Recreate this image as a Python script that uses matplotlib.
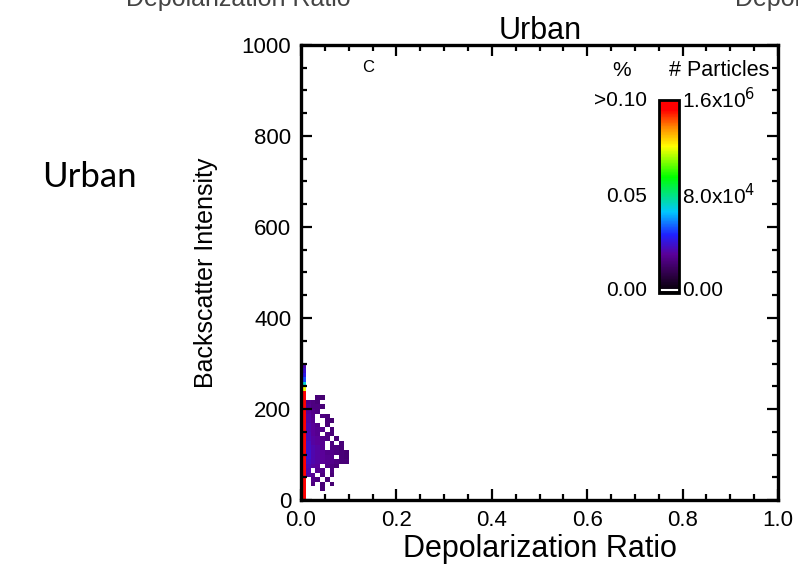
import numpy as np
import matplotlib
matplotlib.use("Agg")
import matplotlib.pyplot as plt
from matplotlib.colors import LinearSegmentedColormap
from matplotlib.ticker import MultipleLocator

# bin edges of the 2D histogram
depol_edges = [0.00, 0.01, 0.02, 0.03, 0.04, 0.05, 0.06, 0.07, 0.08, 0.09, 0.10]
intensity_edges = list(range(0, 310, 10))

# percent of particles per cell, one row per intensity bin (0-10, 10-20, ...)
percent = [
    [0.12, 0, 0, 0, 0, 0, 0, 0, 0, 0],
    [0.12, 0, 0, 0, 0, 0, 0, 0, 0, 0],
    [0.12, 0, 0, 0, 0.016, 0, 0, 0, 0, 0],
    [0.12, 0, 0.017, 0, 0.016, 0, 0.015, 0, 0, 0],
    [0.12, 0, 0.018, 0.017, 0, 0.016, 0, 0, 0, 0],
    [0.12, 0.021, 0.019, 0, 0.017, 0, 0.016, 0, 0, 0],
    [0.12, 0.022, 0, 0.019, 0.018, 0, 0.017, 0, 0, 0],
    [0.12, 0.023, 0.021, 0.02, 0, 0.018, 0.017, 0.016, 0, 0],
    [0.12, 0.024, 0.022, 0.021, 0.02, 0.019, 0.018, 0.017, 0.016, 0.016],
    [0.12, 0.025, 0.022, 0.021, 0.02, 0.019, 0.018, 0, 0.016, 0.015],
    [0.12, 0.025, 0.022, 0.021, 0.02, 0.018, 0.018, 0.017, 0.016, 0.015],
    [0.12, 0.024, 0.022, 0.021, 0.019, 0, 0.017, 0.017, 0.016, 0],
    [0.12, 0.024, 0.021, 0.02, 0.019, 0, 0.017, 0, 0.016, 0],
    [0.12, 0.023, 0.021, 0.02, 0.018, 0.017, 0, 0.016, 0, 0],
    [0.12, 0.023, 0.02, 0.019, 0, 0.017, 0.016, 0, 0, 0],
    [0.12, 0.022, 0.02, 0.019, 0.018, 0, 0.016, 0, 0, 0],
    [0.12, 0.022, 0.02, 0.018, 0, 0.016, 0, 0, 0, 0],
    [0.12, 0.021, 0.019, 0, 0, 0.016, 0.015, 0, 0, 0],
    [0.12, 0.021, 0.018, 0, 0.017, 0.016, 0, 0, 0, 0],
    [0.12, 0.02, 0.018, 0.017, 0, 0, 0, 0, 0, 0],
    [0.12, 0.019, 0.017, 0.017, 0.016, 0, 0, 0, 0, 0],
    [0.12, 0.018, 0.017, 0.016, 0, 0, 0, 0, 0, 0],
    [0.12, 0, 0, 0.016, 0.015, 0, 0, 0, 0, 0],
    [0.12, 0, 0, 0, 0, 0, 0, 0, 0, 0],
    [0.075, 0, 0, 0, 0, 0, 0, 0, 0, 0],
    [0.045, 0, 0, 0, 0, 0, 0, 0, 0, 0],
    [0.033, 0, 0, 0, 0, 0, 0, 0, 0, 0],
    [0.028, 0, 0, 0, 0, 0, 0, 0, 0, 0],
    [0.025, 0, 0, 0, 0, 0, 0, 0, 0, 0],
    [0.022, 0, 0, 0, 0, 0, 0, 0, 0, 0],
]

pct_labels = [">0.10", "0.05", "0.00"]
count_labels = ["1.6x10$^6$", "8.0x10$^4$", "0.00"]

plt.rcParams["font.family"] = ["Liberation Sans", "DejaVu Sans"]

cmap = LinearSegmentedColormap.from_list("idl_rainbow", [
    (0.0, "#000000"), (0.1, "#30004a"), (0.2, "#5a0099"), (0.3, "#2020ff"),
    (0.42, "#00c8ff"), (0.6, "#00ff00"), (0.76, "#ffff00"), (0.86, "#ff8800"),
    (0.95, "#ff0000"), (1.0, "#ff0000")])

W, H = 798, 566
fig = plt.figure(figsize=(W / 100, H / 100), dpi=100)
ax = fig.add_axes([301 / W, 1 - 500 / H, 477 / W, 455 / H])

z = np.ma.masked_equal(np.array(percent), 0)
mesh = ax.pcolormesh(depol_edges, intensity_edges, z, cmap=cmap, vmin=0, vmax=0.10)

ax.set_xlim(0, 1)
ax.set_ylim(0, 1000)
ax.xaxis.set_major_locator(MultipleLocator(0.2))
ax.xaxis.set_minor_locator(MultipleLocator(0.05))
ax.yaxis.set_major_locator(MultipleLocator(200))
ax.yaxis.set_minor_locator(MultipleLocator(50))
ax.xaxis.set_major_formatter(matplotlib.ticker.FormatStrFormatter("%.1f"))
ax.tick_params(which="both", direction="in", top=True, right=True, width=1.6, labelsize=16)
ax.tick_params(which="major", length=8, pad=7)
ax.tick_params(which="minor", length=4)
for s in ax.spines.values():
    s.set_linewidth(2.4)
ax.set_xlabel("Depolarization Ratio", fontsize=22, labelpad=2)
ax.set_ylabel("Backscatter Intensity", fontsize=18, labelpad=17)
ax.text(0.14, 951, "C", fontsize=12, ha="center", va="center")

# colour bar inside the plot
cax = fig.add_axes([659 / W, 1 - 293 / H, 20 / W, 193 / H])
cb = fig.colorbar(mesh, cax=cax, ticks=[])
cb.outline.set_linewidth(2)
cax.axhline(0.0015, color="white", lw=1.5)

def ft(px, py, s, **kw):
    fig.text(px / W, 1 - py / H, s, **kw)

ft(622, 71, "%", fontsize=15, ha="center", va="center")
ft(719, 71, "# Particles", fontsize=15.5, ha="center", va="center")
for lab, yy in zip(pct_labels, [100, 196, 290]):
    ft(647, yy, lab, fontsize=15, ha="right", va="center")
for lab, yy in zip(count_labels, [100, 196, 290]):
    ft(682, yy, lab, fontsize=15, ha="left", va="center")

ft(540, 39, "Urban", fontsize=22, ha="center", va="baseline")
ft(42, 187, "Urban", fontsize=25, ha="left", va="baseline", family=["Lato", "DejaVu Sans"])
# clipped labels from neighbouring panels
ft(238, 6, "Depolarization Ratio", fontsize=18, ha="center", va="baseline", color="#444444")
ft(735, 6, "Depolarization Ratio", fontsize=18, ha="left", va="baseline", color="#444444")

fig.savefig("out.png", dpi=100)
